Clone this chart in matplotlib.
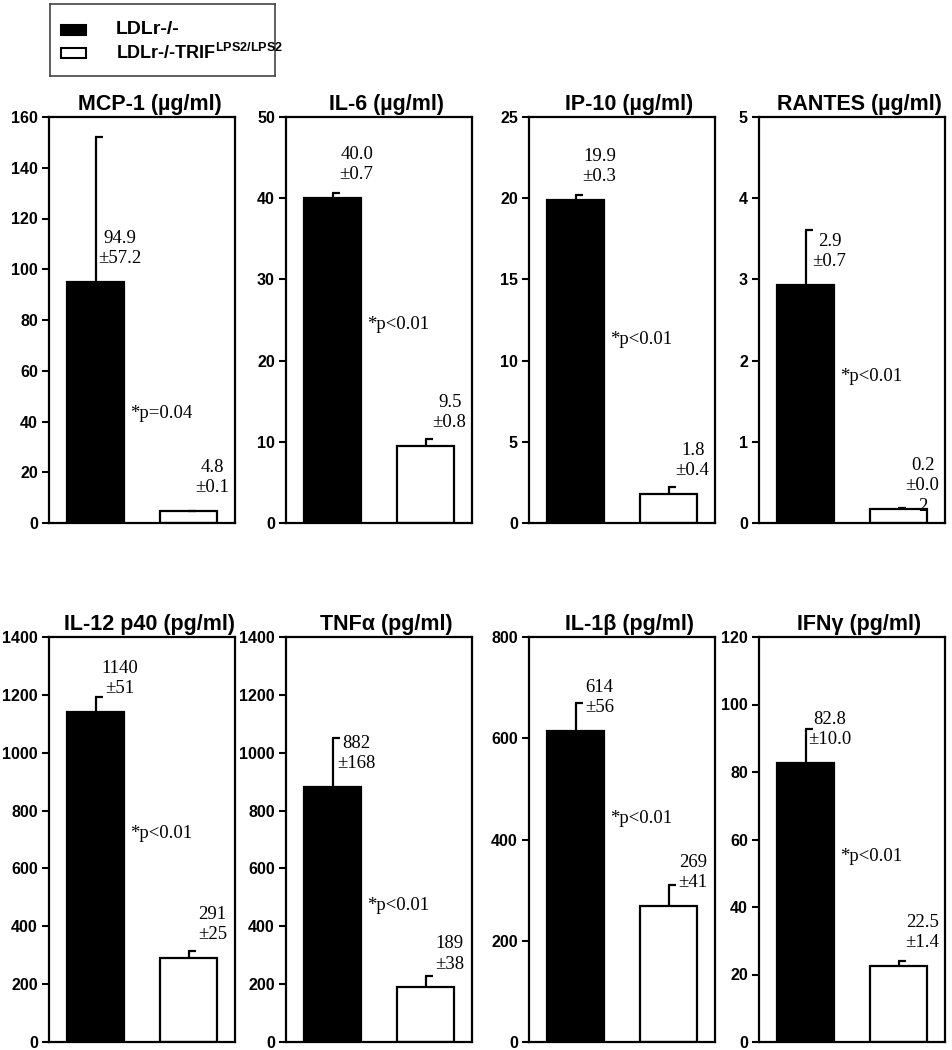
import matplotlib
matplotlib.use("Agg")
import matplotlib.pyplot as plt
from matplotlib.patches import Rectangle

plt.rcParams['font.family'] = ['Liberation Sans', 'DejaVu Sans']
plt.rcParams['mathtext.fontset'] = 'custom'
plt.rcParams['mathtext.bf'] = 'Liberation Sans:bold'
plt.rcParams['mathtext.rm'] = 'Liberation Sans'

# cytokine panels, left to right, top row then bottom row
titles = ["MCP-1 (µg/ml)", "IL-6 (µg/ml)", "IP-10 (µg/ml)", "RANTES (µg/ml)",
          "IL-12 p40 (pg/ml)", "TNFα (pg/ml)", "IL-1β (pg/ml)", "IFNγ (pg/ml)"]
ldlr_mean = [94.9, 40.0, 19.9, 2.93, 1140, 882, 614, 82.8]
ldlr_err = [57.2, 0.7, 0.3, 0.68, 51, 168, 56, 10.0]
trif_mean = [4.8, 9.5, 1.8, 0.17, 291, 189, 269, 22.5]
trif_err = [0.1, 0.8, 0.4, 0.02, 25, 38, 41, 1.4]
ldlr_labels = ["94.9\n±57.2", "40.0\n±0.7", "19.9\n±0.3", "2.9\n±0.7",
               "1140\n±51", "882\n±168", "614\n±56", "82.8\n±10.0"]
trif_labels = ["4.8\n±0.1", "9.5\n±0.8", "1.8\n±0.4", "0.2\n±0.0\n2",
               "291\n±25", "189\n±38", "269\n±41", "22.5\n±1.4"]
p_labels = ["*p=0.04", "*p<0.01", "*p<0.01", "*p<0.01",
            "*p<0.01", "*p<0.01", "*p<0.01", "*p<0.01"]
p_ypos = [43, 24.5, 11.3, 1.80, 722, 473, 442, 55]
ymax = [160, 50, 25, 5, 1400, 1400, 800, 120]
ystep = [20, 10, 5, 1, 200, 200, 200, 20]

W, H = 952, 1050
fig = plt.figure(figsize=(W / 100, H / 100), dpi=100)

lefts = [49, 286, 529, 759]
width = 186
rows = [(117, 523), (637, 1042)]

serif = ['Liberation Serif', 'DejaVu Serif']

for i in range(8):
    top, bot = rows[i // 4]
    left = lefts[i % 4]
    ax = fig.add_axes([left / W, 1 - bot / H, width / W, (bot - top) / H])
    xs = [0, 1]
    means = [ldlr_mean[i], trif_mean[i]]
    errs = [ldlr_err[i], trif_err[i]]
    ax.bar(xs, means, width=0.62, color=['black', 'white'], edgecolor='black', linewidth=1.6, zorder=2)
    for x, m, e in zip(xs, means, errs):
        ax.vlines(x, m, m + e, color='black', linewidth=1.6, zorder=3)
        ax.hlines(m + e, x - 0.01, x + 0.08, color='black', linewidth=1.6, zorder=3)
    for x, m, lab in zip(xs, means, [ldlr_labels[i], trif_labels[i]]):
        ax.annotate(lab, (x + 0.26, m), xytext=(0, 52), textcoords='offset pixels',
                    ha='center', va='top', fontsize=13.5, family=serif,
                    multialignment='center', linespacing=1.25, zorder=4)
    ax.text(0.37, p_ypos[i], p_labels[i], ha='left', va='center', fontsize=13.5, family=serif)
    ax.set_xlim(-0.5, 1.5)
    ax.set_ylim(0, ymax[i])
    ax.set_yticks(range(0, ymax[i] + 1, ystep[i]))
    ax.set_xticks([])
    ax.tick_params(axis='y', direction='out', length=5, width=1.5, labelsize=11.5, pad=3)
    for lab in ax.get_yticklabels():
        lab.set_fontweight('bold')
    for s in ax.spines.values():
        s.set_linewidth(1.6)
    ax.set_title(titles[i], fontsize=15.5, fontweight='bold', pad=5, x=0.54)

# legend box
lax = fig.add_axes([50 / W, 1 - 76 / H, 225 / W, 72 / H])
lax.set_xlim(0, 225)
lax.set_ylim(72, 0)
lax.set_xticks([])
lax.set_yticks([])
for s in lax.spines.values():
    s.set_linewidth(1.2)
    s.set_color('#444444')
lax.add_patch(Rectangle((11, 21), 25, 10, facecolor='black', edgecolor='black', linewidth=1.5))
lax.add_patch(Rectangle((11, 44), 25, 10, facecolor='white', edgecolor='black', linewidth=1.5))
lax.text(66, 26, "LDLr-/-", fontsize=14, fontweight='bold', va='center')
lax.text(66, 49, r"LDLr-/-TRIF$^{\mathbf{LPS2/LPS2}}$", fontsize=13, fontweight='bold', va='center')

fig.savefig("out.png", dpi=100)
